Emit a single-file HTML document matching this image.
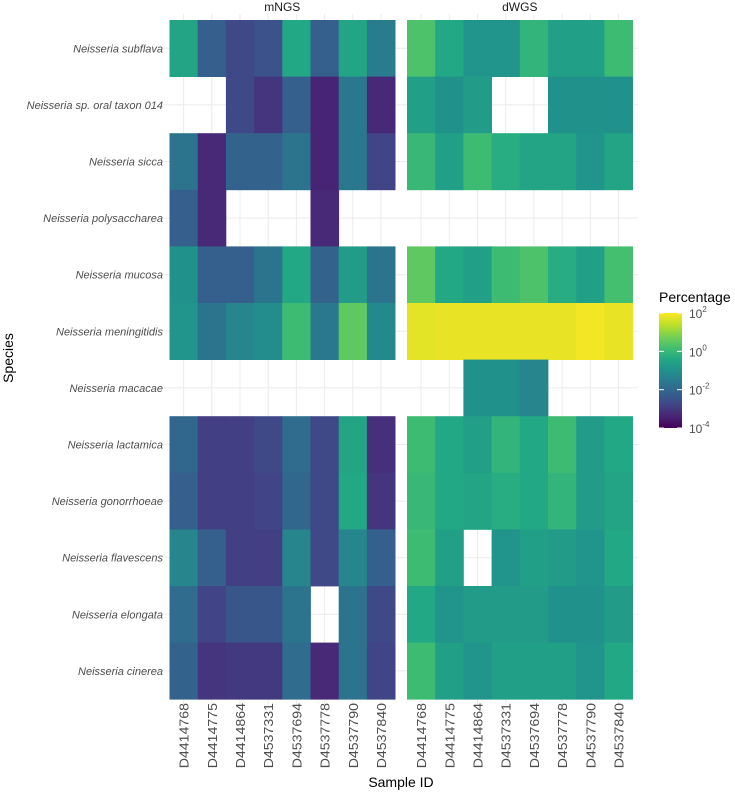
<!DOCTYPE html>
<html><head><meta charset="utf-8"><style>
body{margin:0;background:#fff;}
svg text{font-family:"Liberation Sans",Arial,sans-serif;}
</style></head><body>
<svg id="c" width="735" height="792" xmlns="http://www.w3.org/2000/svg"></svg>
<script>
const species=["Neisseria subflava","Neisseria sp. oral taxon 014","Neisseria sicca","Neisseria polysaccharea","Neisseria mucosa","Neisseria meningitidis","Neisseria macacae","Neisseria lactamica","Neisseria gonorrhoeae","Neisseria flavescens","Neisseria elongata","Neisseria cinerea"];
const samples=["D4414768","D4414775","D4414864","D4537331","D4537694","D4537778","D4537790","D4537840"];
const panels=["mNGS","dWGS"];
// log10(percentage) values; null = missing
const mNGS=[
[-0.5,-2.2,-2.7,-2.5,-0.4,-2.2,-0.5,-1.5],
[null,null,-2.7,-3.1,-2.2,-3.4,-1.6,-3.3],
[-1.7,-3.3,-2.1,-2.1,-1.7,-3.4,-1.6,-2.8],
[-2.2,-3.3,null,null,null,-3.3,null,null],
[-1.0,-2.2,-2.2,-1.7,-0.4,-2.1,-0.7,-1.7],
[-0.9,-1.7,-1.3,-1.1,0.1,-1.6,0.5,-1.2],
[null,null,null,null,null,null,null,null],
[-2.0,-2.9,-2.9,-2.7,-1.9,-2.7,-0.5,-3.2],
[-2.2,-2.9,-2.9,-2.8,-2.0,-2.7,-0.4,-3.1],
[-1.3,-2.2,-2.9,-2.9,-1.3,-2.7,-1.3,-2.2],
[-1.9,-2.8,-2.4,-2.4,-1.7,null,-1.7,-2.7],
[-2.1,-3.1,-3.0,-3.0,-1.9,-3.3,-1.7,-2.8]];
const dWGS=[
[0.3,-0.4,-0.9,-0.9,-0.1,-0.6,-0.6,0.1],
[-0.6,-1.0,-0.7,null,null,-1.0,-1.0,-1.0],
[0.0,-0.6,0.1,-0.3,-0.5,-0.5,-0.9,-0.5],
[null,null,null,null,null,null,null,null],
[0.5,-0.4,-0.6,0.1,0.3,-0.3,-0.6,0.2],
[1.75,1.8,1.8,1.8,1.8,1.8,1.9,1.8],
[null,null,-1.0,-1.0,-1.3,null,null,null],
[0.1,-0.4,-0.6,-0.1,-0.4,0.1,-0.7,-0.4],
[0.0,-0.4,-0.5,-0.3,-0.4,-0.1,-0.7,-0.5],
[0.1,-0.6,null,-0.9,-0.6,-0.7,-0.9,-0.4],
[-0.4,-0.9,-0.7,-0.7,-0.7,-1.0,-1.0,-0.7],
[0.1,-0.6,-0.9,-0.6,-0.6,-0.6,-0.9,-0.4]];
const legendTicks=[2,0,-2,-4];

const NS="http://www.w3.org/2000/svg";
const svg=document.getElementById('c');
function el(t,a,p){const e=document.createElementNS(NS,t);for(const k in a)e.setAttribute(k,a[k]);(p||svg).appendChild(e);return e;}
const vir=["#440154","#482475","#414487","#355f8d","#2a788e","#21918c","#22a884","#44bf70","#7ad151","#bddf26","#fde725"];
function hx(h){return [1,3,5].map(i=>parseInt(h.substr(i,2),16));}
function color(v){let t=(v+4)/6;t=Math.max(0,Math.min(1,t));const f=t*10,i=Math.min(9,Math.floor(f)),r=f-i;const a=hx(vir[i]),b=hx(vir[i+1]);return "rgb("+a.map((x,k)=>Math.round(x+(b[k]-x)*r)).join(",")+")";}
const topY=20,rowH=56.6,colW=28.2,panelX=[169.5,407];
const xPos=(p,j)=>panelX[p]+j*colW;
const yPos=i=>topY+i*rowH;
const data=[mNGS,dWGS];
panels.forEach((pn,p)=>{
  const g=el('g',{});
  
  
  samples.forEach((s,j)=>{const x=xPos(p,j)+colW/2;const l=el('line',{x1:x,x2:x,y1:topY-6,y2:yPos(12)+6,stroke:'#ebebeb','stroke-width':1},g);
    
    });
  species.forEach((s,i)=>{const y=yPos(i)+rowH/2;const l=el('line',{x1:panelX[p]-6,x2:panelX[p]+8*colW+6,y1:y,y2:y,stroke:'#ebebeb','stroke-width':1},g);
    
    });
  data[p].forEach((row,i)=>row.forEach((v,j)=>{
    if(v===null)return;
    const r=el('rect',{x:xPos(p,j),y:yPos(i),width:colW+0.4,height:rowH+0.4,fill:color(v)},g);
    
    
  }));
  const st=el('text',{x:panelX[p]+4*colW,y:11,'text-anchor':'middle','font-size':12,fill:'#1a1a1a'},g);st.textContent=pn;
  
  
  samples.forEach((s,j)=>{const x=xPos(p,j)+colW/2+5;const t=el('text',{transform:`translate(${x},703) rotate(-90) scale(1.18,1.1)`,'text-anchor':'end','font-size':12,fill:'#4d4d4d'},g);t.textContent=s;
    
    });
});
species.forEach((s,i)=>{const t=el('text',{x:163,y:yPos(i)+rowH/2+4,'text-anchor':'end','font-size':11,'font-style':'italic',fill:'#4d4d4d'});t.textContent=s;
  
  });
const yt=el('text',{transform:'translate(13,358) rotate(-90)','text-anchor':'middle','font-size':14,fill:'#000'});yt.textContent='Species';


const xt=el('text',{x:401,y:787,'text-anchor':'middle','font-size':14,fill:'#000'});xt.textContent='Sample ID';


const lg=el('g',{});


const lt=el('text',{x:659,y:302,'font-size':14,fill:'#000'},lg);lt.textContent='Percentage';


const defs=el('defs',{},lg);const gr=el('linearGradient',{id:'vg',x1:0,y1:1,x2:0,y2:0},defs);
vir.forEach((c,k)=>el('stop',{offset:(k*10)+'%','stop-color':c},gr));
const lyTop=313,lyBot=428,lv=v=>lyBot-(v+4)/6*(lyBot-lyTop);
const bar=el('rect',{x:659,y:lyTop,width:23,height:lyBot-lyTop,fill:'url(#vg)'},lg);


legendTicks.forEach(v=>{const y=lv(v);
  el('line',{x1:659,x2:664,y1:y,y2:y,stroke:'#fff','stroke-width':1},lg);
  el('line',{x1:677,x2:682,y1:y,y2:y,stroke:'#fff','stroke-width':1},lg);
  const t=el('text',{x:689,y:y+5,'font-size':12,fill:'#4d4d4d'},lg);t.textContent='10';
  const sp=el('tspan',{dy:-6,'font-size':8},t);sp.textContent=(v<0?'-':'')+Math.abs(v);
  
  });
</script>
</body></html>
